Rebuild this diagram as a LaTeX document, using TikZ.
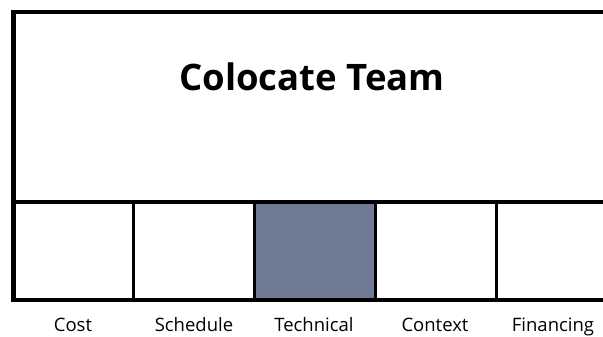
\documentclass[tikz,border=0pt]{standalone}
\usepackage{fontspec}
\setmainfont{Open Sans}
\usetikzlibrary{positioning}
\definecolor{slate}{RGB}{111,122,149}
\tikzset{
x=1pt, y=-1pt, % pixel-like units, y grows downwards
frame/.style={line width=4.5pt}, % the heavy outline
divider/.style={line width=2.6pt}, % thin lines between the cells
cell/.style={minimum width=121pt, minimum height=97pt, inner sep=0pt, outer sep=0pt},
chosen/.style={cell, fill=slate}, % the highlighted cell
caption/.style={font=\fontsize{18.5}{22}\selectfont, inner sep=0pt, anchor=base},
title/.style={font=\bfseries\fontsize{36.5}{44}\selectfont, inner sep=0pt},
}
\begin{document}
\begin{tikzpicture}
                \useasboundingbox (0,0) rectangle (603,337);
                \node[title] (team) at (312,77) {Colocate Team};
                \node[cell] (cost) at (73,250.5) {};
                \node[cell, right=0pt of cost] (schedule) {};
                \node[chosen, right=0pt of schedule] (technical) {};
                \node[cell, right=0pt of technical] (context) {};
                \node[cell, right=0pt of context] (financing) {};
                % dividers
                \draw[divider]
                    (cost.north east) -- (cost.south east)
                    (schedule.north east) -- (schedule.south east)
                    (technical.north west) -- (technical.south west)
                    (technical.north east) -- (technical.south east)
                    (context.north east) -- (context.south east)
                    ;
                % outline, open on the right
                \draw[frame] (603,12) -- (13.5,12) -- (13.5,300) -- (603,300);
                \draw[frame] (13.5,202) -- (603,202);
                % captions
                \node[caption] (costtext) at (73,331) {Cost};
                \node[caption] (scheduletext) at (194,331) {Schedule};
                \node[caption] (technicaltext) at (314,331) {Technical};
                \node[caption] (contexttext) at (435,331) {Context};
                \node[caption] (financingtext) at (553,331) {Financing};
\end{tikzpicture}
\end{document}
